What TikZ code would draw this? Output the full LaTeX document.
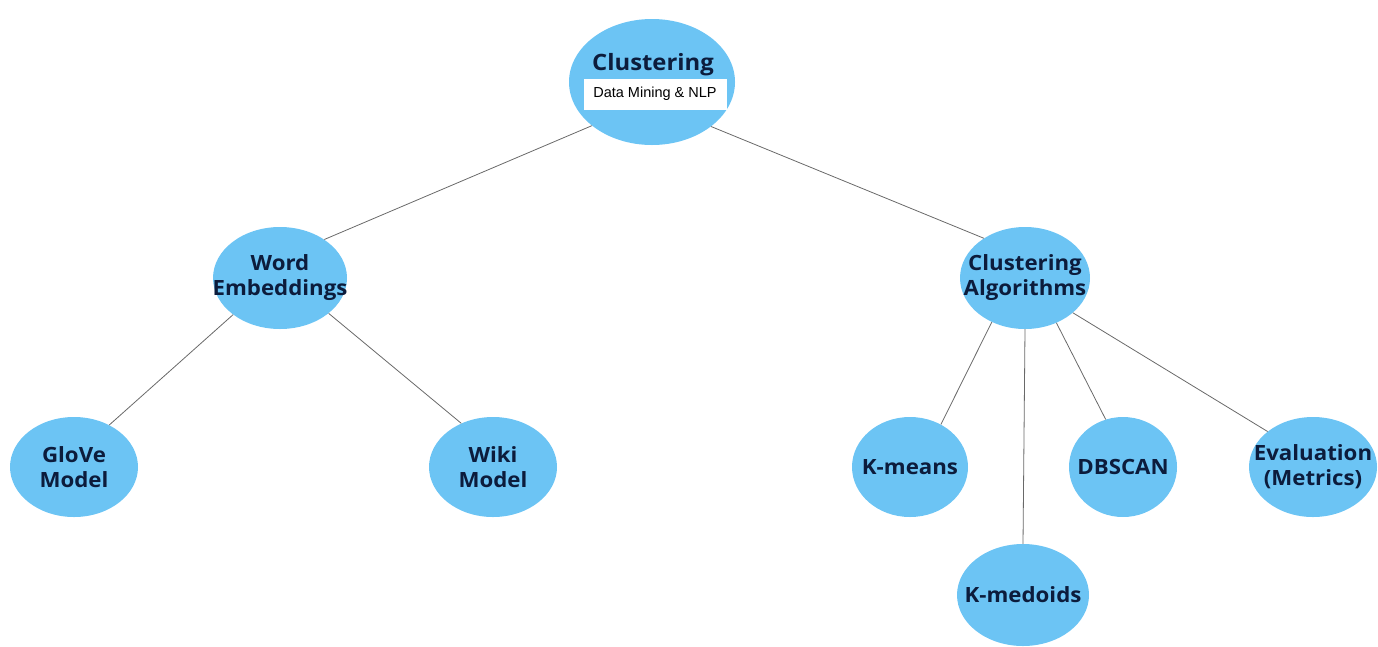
\documentclass[tikz,border=0pt]{standalone}
\usepackage{fontspec}
\setmainfont[FakeStretch=1.06]{Open Sans}
\newfontfamily\arialfont{Liberation Sans}
\usetikzlibrary{shapes.geometric}
\definecolor{bubble}{RGB}{108,196,244}
\definecolor{navy}{RGB}{12,28,60}
\definecolor{wire}{RGB}{105,105,105}
\tikzset{
  bub/.style={ellipse, fill=bubble, draw=none, inner sep=0pt},
  lbl/.style={text=navy, font=\bfseries\fontsize{21}{25}\selectfont, align=center, inner sep=0pt},
  wirel/.style={draw=wire, line width=0.8pt}
}
\begin{document}
\begin{tikzpicture}[x=1pt,y=-1pt]
\useasboundingbox (0,0) rectangle (1378,646);
\clip (0,0) rectangle (1378,646);
\node[bub, minimum width=166pt, minimum height=126pt] (root) at (652,82) {};
\node[bub, minimum width=134pt, minimum height=102pt] (we) at (280,278) {};
\node[bub, minimum width=130pt, minimum height=102pt] (ca) at (1025,278) {};
\node[bub, minimum width=128pt, minimum height=100pt] (glove) at (74,467) {};
\node[bub, minimum width=128pt, minimum height=100pt] (wiki) at (493,467) {};
\node[bub, minimum width=116pt, minimum height=100pt] (km) at (910,467) {};
\node[bub, minimum width=108pt, minimum height=100pt] (db) at (1123,467) {};
\node[bub, minimum width=128pt, minimum height=100pt] (ev) at (1313,467) {};
\node[bub, minimum width=132pt, minimum height=102pt] (kmed) at (1023,595) {};
\node[lbl] (wel) at (we) {Word\\Embeddings};
\node[lbl] (cal) at (ca) {Clustering\\Algorithms};
\node[lbl] (glovel) at (glove) {GloVe\\Model};
\node[lbl] (wikil) at (wiki) {Wiki\\Model};
\node[lbl] (kml) at (km) {K-means};
\node[lbl] (dbl) at (db) {DBSCAN};
\node[lbl] (evl) at (ev) {Evaluation\\(Metrics)};
\node[lbl] (kmedl) at (kmed) {K-medoids};
\node[text=navy, font=\bfseries\fontsize{22.5}{26}\selectfont, anchor=base] (rootlabel) at (653,70) {Clustering};
\node[fill=white, inner sep=0pt, minimum width=143pt, minimum height=31pt,
  font=\arialfont\fontsize{14.5}{16}\selectfont, text=black] (sub) at (655,94) {Data Mining \& NLP};
\draw[wirel] (root.216) -- (we.41);
\draw[wirel] (root.323) -- (ca.136);
\draw[wirel] (we.218) -- (glove.50);
\draw[wirel] (we.324) -- (wiki.126);
\draw[wirel] (ca.233) -- (km.54);
\draw[wirel] (ca.270) -- (kmed.90);
\draw[wirel] (ca.305) -- (db.110);
\draw[wirel] (ca.324) -- (ev.142);
\end{tikzpicture}
\end{document}
